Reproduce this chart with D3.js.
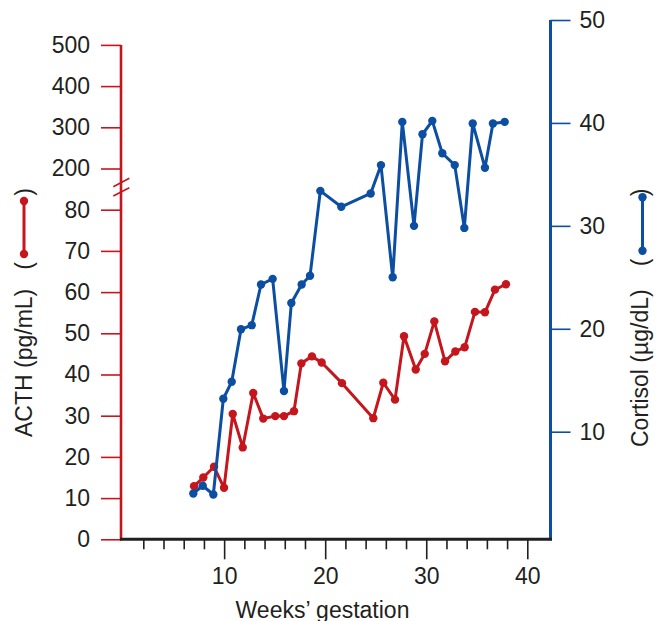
<!DOCTYPE html>
<html>
<head>
<meta charset="utf-8">
<script src="https://cdn.jsdelivr.net/npm/d3@7/dist/d3.min.js"></script>
<style>
  html, body { margin: 0; padding: 0; background: #fff; }
  svg { display: block; }
  text { font-family: "Liberation Sans", Arial, Helvetica, sans-serif; fill: #231F20; }
</style>
</head>
<body>
<svg id="chart" width="656" height="621"></svg>
<script>
// ---- Data ----
const acthWeeks = [7.02, 7.94, 9.0, 9.99, 10.85, 11.84, 12.88, 13.87, 15.06, 15.92, 16.91, 17.64, 18.69, 19.65, 21.66,
  24.76, 25.75, 26.91, 27.8, 28.96, 29.85, 30.8, 31.86, 32.88, 33.8, 34.82, 35.81, 36.8, 37.89];
const acthValues = [12.9, 15.0, 17.6, 12.5, 30.4, 22.3, 35.5, 29.3, 29.9, 29.9, 31.1, 42.7, 44.4, 42.9, 37.9,
  29.4, 38.0, 33.9, 49.3, 41.2, 45.0, 52.9, 43.2, 45.6, 46.6, 55.2, 55.1, 60.6, 61.9];
const cortisolWeeks = [6.95, 7.88, 8.93, 9.92, 10.75, 11.67, 12.73, 13.65, 14.8, 15.92, 16.65, 17.67, 18.5, 19.52, 21.59,
  24.5, 25.52, 26.68, 27.63, 28.79, 29.63, 30.6, 31.59, 32.82, 33.77, 34.6, 35.81, 36.6, 37.76];
const cortisolValues = [4.0, 4.75, 3.9, 13.2, 14.85, 19.95, 20.35, 24.3, 24.85, 13.95, 22.5, 24.3, 25.15, 33.4, 31.85,
  33.15, 35.9, 25.0, 40.1, 30.0, 38.9, 40.2, 37.05, 35.9, 29.8, 39.95, 35.65, 39.95, 40.1];

const acthTicks = [0, 10, 20, 30, 40, 50, 60, 70, 80, 200, 300, 400, 500];
const cortisolTicks = [10, 20, 30, 40, 50];
const weekMajorTicks = [10, 20, 30, 40];
const weekMinorTicks = [2, 4, 6, 8, 12, 14, 16, 18, 22, 24, 26, 28, 32, 34, 36, 38];

const xLabel = "Weeks\u2019 gestation";
const yLeftLabel = "ACTH (pg/mL)";
const yRightLabel = "Cortisol (\u00B5g/dL)";

// ---- Layout ----
const RED = "#C5161D", BLUE = "#0B4EA2", DARK = "#231F20";
const FS = 23;
const leftX = 121, rightX = 550.5, bottomY = 539.3;
const step = 41.2;

const svg = d3.select("#chart");

const x = d3.scaleLinear().domain([2, 40]).range([143.3, 527.3]);
const yL = d3.scaleLinear().domain([0, 80, 200, 500])
  .range([bottomY, bottomY - 8 * step, bottomY - 9 * step, bottomY - 12 * step]);
const yR = d3.scaleLinear().domain([10, 50]).range([431.7, 20]);

// ---- Left axis ----
const gL = svg.append("g").attr("transform", `translate(${leftX},0)`)
  .call(d3.axisLeft(yL).tickValues(acthTicks).tickSize(20).tickPadding(11).tickFormat(d3.format("d")));
gL.select(".domain").remove();
gL.selectAll(".tick line").attr("stroke", RED).attr("stroke-width", 1.6);
gL.selectAll(".tick text").attr("font-size", FS).attr("fill", DARK).attr("font-family", null);

svg.append("line").attr("x1", leftX).attr("x2", leftX)
  .attr("y1", yL(500)).attr("y2", bottomY + 1)
  .attr("stroke", RED).attr("stroke-width", 2.6);

// axis break marks
const brk = [[113.3, 186.7, 129.3, 178.3], [113.3, 196.0, 129.3, 187.7]];
svg.selectAll("line.brk").data(brk).enter().append("line").attr("class", "brk")
  .attr("x1", d => d[0]).attr("y1", d => d[1]).attr("x2", d => d[2]).attr("y2", d => d[3])
  .attr("stroke", RED).attr("stroke-width", 1.6);

// ---- Right axis ----
const gR = svg.append("g").attr("transform", `translate(${rightX},0)`)
  .call(d3.axisRight(yR).tickValues(cortisolTicks).tickSize(20).tickPadding(9).tickFormat(d3.format("d")));
gR.select(".domain").remove();
gR.selectAll(".tick line").attr("stroke", BLUE).attr("stroke-width", 1.6);
gR.selectAll(".tick text").attr("font-size", FS).attr("fill", DARK).attr("font-family", null);

svg.append("line").attr("x1", rightX).attr("x2", rightX)
  .attr("y1", yR(50)).attr("y2", bottomY + 1)
  .attr("stroke", BLUE).attr("stroke-width", 3);

// ---- Bottom axis ----
const gXm = svg.append("g").attr("transform", `translate(0,${bottomY})`)
  .call(d3.axisBottom(x).tickValues(weekMinorTicks).tickSize(10).tickFormat(""));
gXm.select(".domain").remove();
gXm.selectAll(".tick line").attr("stroke", DARK).attr("stroke-width", 1.6);

const gX = svg.append("g").attr("transform", `translate(0,${bottomY})`)
  .call(d3.axisBottom(x).tickValues(weekMajorTicks).tickSize(20).tickPadding(8).tickFormat(d3.format("d")));
gX.select(".domain").remove();
gX.selectAll(".tick line").attr("stroke", DARK).attr("stroke-width", 1.6);
gX.selectAll(".tick text").attr("font-size", FS).attr("fill", DARK).attr("font-family", null);

svg.append("line").attr("x1", leftX - 1).attr("x2", rightX + 1.5)
  .attr("y1", bottomY).attr("y2", bottomY)
  .attr("stroke", DARK).attr("stroke-width", 3);

svg.append("text").attr("x", 322.5).attr("y", 618).attr("text-anchor", "middle")
  .attr("font-size", FS).text(xLabel);

// ---- Series ----
const acth = acthWeeks.map((w, i) => ({ w, v: acthValues[i] }));
const cort = cortisolWeeks.map((w, i) => ({ w, v: cortisolValues[i] }));

function drawSeries(data, yScale, color) {
  const line = d3.line().x(d => x(d.w)).y(d => yScale(d.v));
  svg.append("path").datum(data).attr("d", line)
    .attr("fill", "none").attr("stroke", color).attr("stroke-width", 3).attr("stroke-linejoin", "round");
  svg.append("g").selectAll("circle").data(data).enter().append("circle")
    .attr("cx", d => x(d.w)).attr("cy", d => yScale(d.v)).attr("r", 4.2).attr("fill", color);
}
drawSeries(acth, yL, RED);
drawSeries(cort, yR, BLUE);

// ---- Rotated labels with legend glyphs ----
function rotText(xp, yp, txt, anchor) {
  return svg.append("text").attr("transform", `translate(${xp},${yp}) rotate(-90)`)
    .attr("text-anchor", anchor).attr("font-size", FS).text(txt);
}
function legendGlyph(xp, y1, y2, color) {
  svg.append("line").attr("x1", xp).attr("x2", xp).attr("y1", y1).attr("y2", y2)
    .attr("stroke", color).attr("stroke-width", 3);
  svg.append("circle").attr("cx", xp).attr("cy", y1).attr("r", 4.2).attr("fill", color);
  svg.append("circle").attr("cx", xp).attr("cy", y2).attr("r", 4.2).attr("fill", color);
}

// left
rotText(31.7, 437, yLeftLabel, "start");
rotText(31.7, 266, "(", "middle");
rotText(31.7, 192, ")", "middle");
legendGlyph(24, 201, 254, RED);

// right
rotText(648.3, 447, yRightLabel, "start");
rotText(648.3, 262.5, "(", "middle");
rotText(648.3, 192.5, ")", "middle");
legendGlyph(642.5, 197.3, 250.8, BLUE);
</script>
</body>
</html>
